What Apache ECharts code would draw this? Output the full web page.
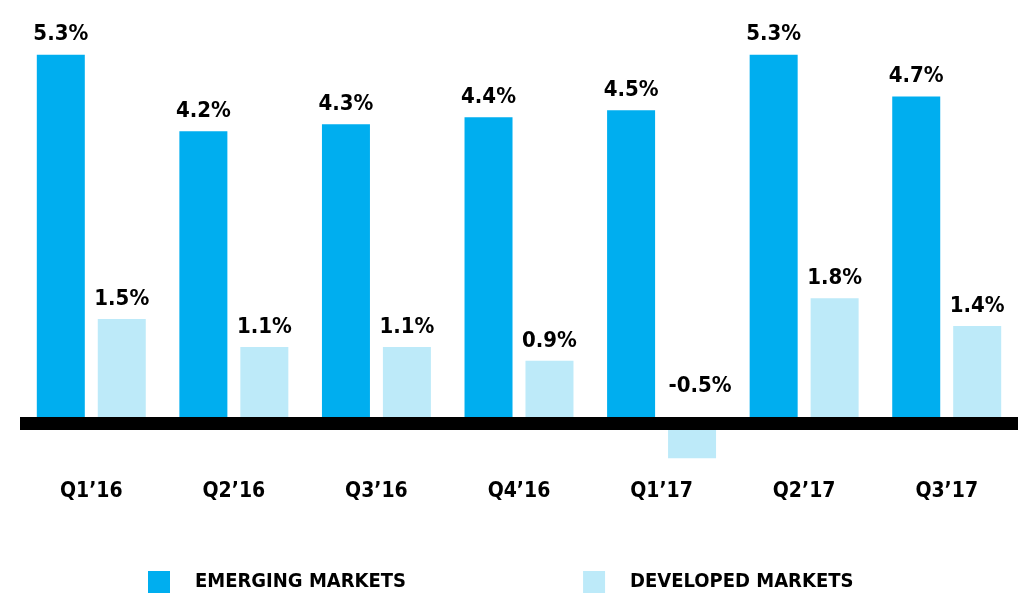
<!DOCTYPE html>
<html>
<head>
<meta charset="utf-8">
<script src="https://cdn.jsdelivr.net/npm/echarts@6/dist/echarts.min.js"></script>
<style>
  html, body { margin: 0; padding: 0; background: #fff; }
  #chart { width: 1018px; height: 597px; }
</style>
</head>
<body>
<div id="chart"></div>
<script>
var quarters = ['Q1’16', 'Q2’16', 'Q3’16', 'Q4’16', 'Q1’17', 'Q2’17', 'Q3’17'];
var emerging = [5.3, 4.2, 4.3, 4.4, 4.5, 5.3, 4.7];
var developed = [1.5, 1.1, 1.1, 0.9, -0.5, 1.8, 1.4];

var font = "'Liberation Sans Narrow', 'DejaVu Sans Condensed', sans-serif";

var chart = echarts.init(document.getElementById('chart'), null, {
  width: 1018,
  height: 597,
  devicePixelRatio: 1
});

// negative bars put their label above the zero line
function withLabels(values) {
  return values.map(function (v) {
    if (v < 0) {
      return { value: v, label: { distance: 26, offset: [8, 0] } };
    }
    return v;
  });
}

var valueLabel = {
  show: true,
  position: 'top',
  distance: 9,
  formatter: '{c}%',
  fontFamily: font,
  fontWeight: 'bold',
  fontSize: 22,
  color: '#000'
};

var option = {
  animation: false,
  textStyle: { fontFamily: font },
  grid: {
    left: 20,
    right: -7,
    top: 6,
    bottom: 104
  },
  legend: {
    left: 143,
    top: 566,
    itemWidth: 22,
    itemHeight: 22,
    itemGap: 177,
    icon: 'rect',
    textStyle: {
      fontFamily: font,
      fontWeight: 'bold',
      fontSize: 20,
      color: '#000',
      padding: [0, 0, 0, 20]
    },
    data: ['EMERGING MARKETS', 'DEVELOPED MARKETS']
  },
  xAxis: {
    type: 'category',
    data: quarters,
    axisTick: { show: false },
    axisLine: {
      onZero: true,
      lineStyle: { color: '#000', width: 13, cap: 'butt' }
    },
    axisLabel: {
      margin: -12,
      fontFamily: font,
      fontWeight: 'bold',
      fontSize: 21,
      color: '#000'
    },
    z: 10
  },
  yAxis: {
    type: 'value',
    min: -1,
    max: 6,
    show: false,
    splitLine: { show: false }
  },
  series: [
    {
      name: 'EMERGING MARKETS',
      type: 'bar',
      data: withLabels(emerging),
      barWidth: 48,
      barGap: '27%',
      itemStyle: { color: '#00AEEF' },
      label: valueLabel
    },
    {
      name: 'DEVELOPED MARKETS',
      type: 'bar',
      data: withLabels(developed),
      barWidth: 48,
      itemStyle: { color: '#BDEAF9' },
      label: valueLabel
    }
  ]
};

chart.setOption(option, true);
</script>
</body>
</html>
